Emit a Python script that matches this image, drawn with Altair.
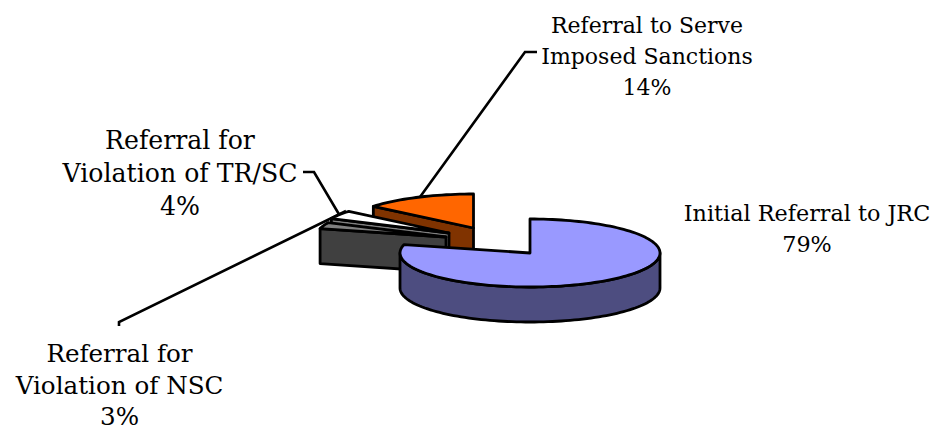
import math
import altair as alt

# Shares of referrals, in the order the pie is drawn clockwise from twelve o'clock
categories = ["Initial Referral to JRC", "Referral for Violation of NSC",
              "Referral for Violation of TR/SC", "Referral to Serve Imposed Sanctions"]
shares = [79, 3, 4, 14]

# Pie geometry: ellipse semi-axes, wall depth and exploded slice centres
RX, RY, DEPTH = 130, 34, 35
centres = [(530, 253), (446, 237), (449, 233), (473.5, 228)]
top_colors = ["#9999FF", "#808080", "#FFFFFF", "#FF6600"]
side_colors = ["#4D4D80", "#404040", "#808080", "#803300"]
INK = "#000000"

# Label lines and their anchors, with font size per label
label_lines = [
    ["Initial Referral to JRC", f"{shares[0]}%"],
    ["Referral for", "Violation of NSC", f"{shares[1]}%"],
    ["Referral for", "Violation of TR/SC", f"{shares[2]}%"],
    ["Referral to Serve", "Imposed Sanctions", f"{shares[3]}%"],
]
label_x = [807, 119.5, 180, 647]
label_first_y = [221, 362, 149, 32.5]
label_step = [31, 31.5, 33, 31]
label_size = [22.3, 24.6, 25.2, 22]

# Leader lines from the labels to their slices
leaders = [
    [(119, 326), (119, 322), (346, 211)],
    [(303, 172), (314, 172), (340, 216)],
    [(537, 52), (525, 52), (420, 197)],
]


def point(centre, deg, dy=0):
    t = math.radians(deg)
    return [centre[0] + RX * math.sin(t), centre[1] - RY * math.cos(t) + dy]


def arc(centre, a, b, dy=0):
    n = max(2, int(abs(b - a) / 2))
    return [point(centre, a + (b - a) * i / n, dy) for i in range(n + 1)]


def polygon(points, fill):
    ring = [list(p) for p in points]
    ring.append(ring[0])
    return {"type": "Feature", "properties": {"fill": fill},
            "geometry": {"type": "Polygon", "coordinates": [ring]}}


def wall(centre, deg, fill):
    p = point(centre, deg)
    return polygon([centre, p, [p[0], p[1] + DEPTH], [centre[0], centre[1] + DEPTH]], fill)


# Slice angles follow from the shares
edges = [0]
for s in shares:
    edges.append(edges[-1] + s * 3.6)

top = [polygon([centres[i]] + arc(centres[i], edges[i], edges[i + 1]), top_colors[i]) for i in range(4)]

# Painter's order: back slice first, the large front slice last
shapes = [
    wall(centres[3], edges[3], side_colors[3]),
    top[3],
    wall(centres[2], edges[2], side_colors[2]),
    top[2],
    wall(centres[1], edges[1], side_colors[1]),
    top[1],
    polygon(arc(centres[0], 90, 270) + arc(centres[0], 270, 90, DEPTH), side_colors[0]),
    top[0],
]

leader_features = [
    {"type": "Feature", "properties": {},
     "geometry": {"type": "LineString", "coordinates": [list(p) for p in line]}}
    for line in leaders
]

text_rows = []
for lines, x, y0, step, size in zip(label_lines, label_x, label_first_y, label_step, label_size):
    for k, line in enumerate(lines):
        text_rows.append({"lon": x, "lat": y0 + k * step, "text": line, "size": size})

projection = alt.Projection(type="identity", scale=1, translate=[0, 0])

pie = alt.Chart(alt.Data(values=shapes)).mark_geoshape(
    stroke=INK, strokeWidth=2.8, strokeJoin="round"
).encode(fill=alt.Fill("properties.fill:N", scale=None)).project(**projection.to_dict())

lines_layer = alt.Chart(alt.Data(values=leader_features)).mark_geoshape(
    filled=False, stroke=INK, strokeWidth=2.6, strokeJoin="miter"
).project(**projection.to_dict())

labels = alt.Chart(alt.Data(values=text_rows)).mark_text(
    font="DejaVu Serif", color="#000000", align="center", baseline="alphabetic"
).encode(
    longitude="lon:Q", latitude="lat:Q", text="text:N",
    size=alt.Size("size:Q", scale=None),
).project(**projection.to_dict())

chart = alt.layer(lines_layer, pie, labels).properties(
    width=934, height=431, padding=0, autosize="none", background="white"
).configure_view(stroke=None)

chart.save("out.html", embed_options={"renderer": "svg", "actions": False})
